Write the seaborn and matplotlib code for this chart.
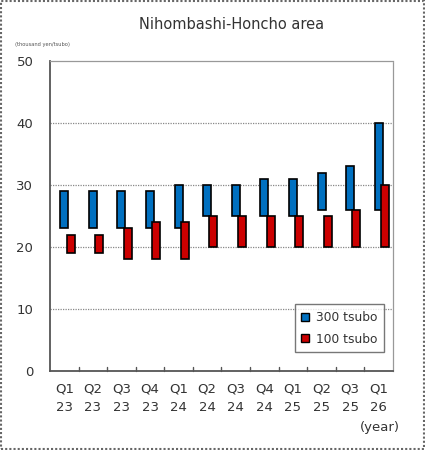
import matplotlib
matplotlib.use("Agg")
import matplotlib.pyplot as plt
import seaborn as sns
import numpy as np
from matplotlib.patches import Patch, Rectangle

# ------------------------------------------------------------------
# dados
# ------------------------------------------------------------------
quarters = ["Q1\n23", "Q2\n23", "Q3\n23", "Q4\n23", "Q1\n24", "Q2\n24",
            "Q3\n24", "Q4\n24", "Q1\n25", "Q2\n25", "Q3\n25", "Q1\n26"]

low_300 = [23, 23, 23, 23, 23, 25, 25, 25, 25, 26, 26, 26]
high_300 = [29, 29, 29, 29, 30, 30, 30, 31, 31, 32, 33, 40]

low_100 = [19, 19, 18, 18, 18, 20, 20, 20, 20, 20, 20, 20]
high_100 = [22, 22, 23, 24, 24, 25, 25, 25, 25, 25, 26, 30]

blue = "#0070C0"
red = "#CC0000"

sns.set_theme(style="white")
plt.rcParams['font.family'] = ['DejaVu Sans']

fig = plt.figure(figsize=(4.25, 4.5), dpi=100)
ax = fig.add_axes([0.1176, 0.1756, 0.807, 0.6888])

x = np.arange(len(quarters))
w = 0.28
h300 = np.array(high_300) - np.array(low_300)
h100 = np.array(high_100) - np.array(low_100)

ax.bar(x, h300, bottom=low_300, width=w, color=blue,
       edgecolor="black", linewidth=1.2, zorder=3)
ax.bar(x + 0.22, h100, bottom=low_100, width=w, color=red,
       edgecolor="black", linewidth=1.2, zorder=4)

ax.set_xlim(-0.5, 11.5)
ax.set_ylim(0, 50)
ax.set_yticks([0, 10, 20, 30, 40, 50])
ax.set_xticks(x)
ax.set_xticklabels(quarters, fontsize=9.5, color="#333333", linespacing=1.6)
ax.tick_params(axis="y", labelsize=9.5, labelcolor="#333333", length=0, pad=12)
ax.tick_params(axis="x", length=0, pad=8)

# marcas entre categorias
for b in np.arange(0.5, 11.5, 1):
    ax.plot([b, b], [0, 0.6], color="#555555", lw=1, zorder=2, clip_on=False)

for v in [10, 20, 30, 40]:
    ax.axhline(v, color="#888888", lw=0.9, ls=(0, (1, 1)), zorder=1)

for s in ["top", "right"]:
    ax.spines[s].set_color("#999999")
    ax.spines[s].set_linestyle((0, (1, 1)))
    ax.spines[s].set_linewidth(0.9)
for s in ["left", "bottom"]:
    ax.spines[s].set_color("#555555")
    ax.spines[s].set_linewidth(1.3)

handles = [Patch(facecolor=blue, edgecolor="black", label="300 tsubo"),
           Patch(facecolor=red, edgecolor="black", label="100 tsubo")]
leg = ax.legend(handles=handles, loc="lower right", bbox_to_anchor=(0.975, 0.06),
                fontsize=8.8, frameon=True, fancybox=False, handlelength=0.6,
                handleheight=0.6, handletextpad=0.6, borderpad=0.55,
                labelspacing=0.7, borderaxespad=0)
leg.get_frame().set_edgecolor("#555555")
leg.get_frame().set_linewidth(1.0)
for t in leg.get_texts():
    t.set_color("#333333")

fig.text(0.545, 0.945, "Nihombashi-Honcho area", ha="center", va="center",
         fontsize=10.5, color="#333333")
fig.text(0.035, 0.902, "(thousand yen/tsubo)", ha="left", va="center",
         fontsize=3.7, color="#555555")
fig.text(0.94, 0.05, "(year)", ha="right", va="center",
         fontsize=9.5, color="#333333")

fig.patches.append(Rectangle((0.003, 0.003), 0.994, 0.994, transform=fig.transFigure,
                             fill=False, edgecolor="#666666", lw=1.5,
                             ls=(0, (1, 1))))

fig.savefig("out.png", dpi=100)
